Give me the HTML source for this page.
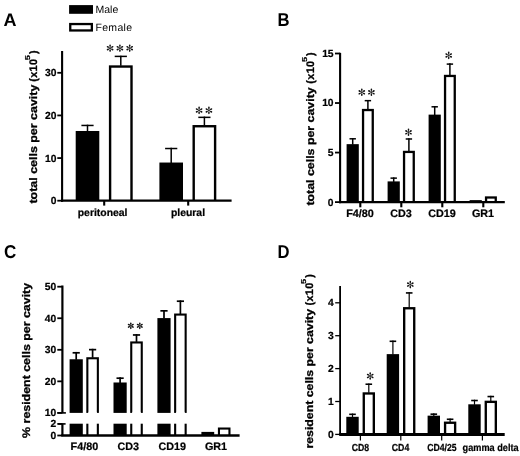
<!DOCTYPE html>
<html><head><meta charset="utf-8"><style>html,body{margin:0;padding:0;background:#fff;width:520px;height:456px;overflow:hidden}svg{display:block;will-change:transform}</style></head>
<body><svg width="520" height="456" viewBox="0 0 520 456" text-rendering="geometricPrecision">
<rect width="520" height="456" fill="#fff"/>
<text transform="translate(3.6,25.6) scale(1.0,1)" font-size="18" font-family="Liberation Sans" font-weight="bold">A</text>
<rect x="69.10" y="5.10" width="23.90" height="8.70" fill="#000"/>
<rect x="69.10" y="22.90" width="23.90" height="8.70" fill="#000"/>
<rect x="71.40" y="25.20" width="19.30" height="4.10" fill="#fff"/>
<text x="95.50" y="13.40" font-size="10.5" text-anchor="start" font-family="Liberation Sans"  >Male</text>
<text x="95.50" y="31.30" font-size="10.5" text-anchor="start" font-family="Liberation Sans"  textLength="36.5">Female</text>
<line x1="62.10" y1="51.00" x2="62.10" y2="201.80" stroke="#000" stroke-width="2.1"/>
<line x1="57.30" y1="200.70" x2="62.00" y2="200.70" stroke="#000" stroke-width="1.8"/>
<text x="56.40" y="204.15" font-size="10.3" text-anchor="end" font-family="Liberation Sans" font-weight="bold" stroke="#000" stroke-width="0.22" >0</text>
<line x1="57.30" y1="158.07" x2="62.00" y2="158.07" stroke="#000" stroke-width="1.8"/>
<text x="56.40" y="161.52" font-size="10.3" text-anchor="end" font-family="Liberation Sans" font-weight="bold" stroke="#000" stroke-width="0.22" >10</text>
<line x1="57.30" y1="115.43" x2="62.00" y2="115.43" stroke="#000" stroke-width="1.8"/>
<text x="56.40" y="118.88" font-size="10.3" text-anchor="end" font-family="Liberation Sans" font-weight="bold" stroke="#000" stroke-width="0.22" >20</text>
<line x1="57.30" y1="72.80" x2="62.00" y2="72.80" stroke="#000" stroke-width="1.8"/>
<text x="56.40" y="76.25" font-size="10.3" text-anchor="end" font-family="Liberation Sans" font-weight="bold" stroke="#000" stroke-width="0.22" >30</text>
<line x1="104.20" y1="200.70" x2="104.20" y2="205.60" stroke="#000" stroke-width="2.1"/>
<line x1="188.20" y1="200.70" x2="188.20" y2="205.60" stroke="#000" stroke-width="2.1"/>
<text x="102.60" y="216.40" font-size="10.4" text-anchor="middle" font-family="Liberation Sans" font-weight="bold" stroke="#000" stroke-width="0.22" >peritoneal</text>
<text x="188.00" y="216.40" font-size="10.4" text-anchor="middle" font-family="Liberation Sans" font-weight="bold" stroke="#000" stroke-width="0.22" >pleural</text>
<line x1="87.50" y1="124.70" x2="87.50" y2="131.49" stroke="#000" stroke-width="1.5"/>
<line x1="81.40" y1="125.45" x2="93.60" y2="125.45" stroke="#000" stroke-width="1.5"/>
<rect x="75.70" y="130.99" width="23.60" height="69.71" fill="#000"/>
<line x1="120.80" y1="55.64" x2="120.80" y2="65.84" stroke="#000" stroke-width="1.5"/>
<line x1="114.70" y1="56.39" x2="126.90" y2="56.39" stroke="#000" stroke-width="1.5"/>
<rect x="108.90" y="65.34" width="23.80" height="135.36" fill="#000"/>
<rect x="111.30" y="67.74" width="19.00" height="132.96" fill="#fff"/>
<line x1="171.20" y1="147.77" x2="171.20" y2="163.04" stroke="#000" stroke-width="1.5"/>
<line x1="165.10" y1="148.52" x2="177.30" y2="148.52" stroke="#000" stroke-width="1.5"/>
<rect x="159.40" y="162.54" width="23.60" height="38.16" fill="#000"/>
<line x1="204.40" y1="116.60" x2="204.40" y2="125.53" stroke="#000" stroke-width="1.5"/>
<line x1="198.30" y1="117.35" x2="210.50" y2="117.35" stroke="#000" stroke-width="1.5"/>
<rect x="192.50" y="125.03" width="23.80" height="75.67" fill="#000"/>
<rect x="194.90" y="127.43" width="19.00" height="73.27" fill="#fff"/>
<line x1="61.00" y1="200.70" x2="231.60" y2="200.70" stroke="#000" stroke-width="2.3"/>
<line x1="110.10" y1="48.20" x2="110.10" y2="45.55" stroke="#111" stroke-width="0.7"/><ellipse cx="110.10" cy="45.55" rx="1.15" ry="0.8" transform="rotate(-90.0 110.10 45.55)" fill="#111"/><line x1="110.10" y1="48.20" x2="112.39" y2="46.88" stroke="#111" stroke-width="0.7"/><ellipse cx="112.39" cy="46.88" rx="1.15" ry="0.8" transform="rotate(-30.0 112.39 46.88)" fill="#111"/><line x1="110.10" y1="48.20" x2="112.39" y2="49.53" stroke="#111" stroke-width="0.7"/><ellipse cx="112.39" cy="49.53" rx="1.15" ry="0.8" transform="rotate(30.0 112.39 49.53)" fill="#111"/><line x1="110.10" y1="48.20" x2="110.10" y2="50.85" stroke="#111" stroke-width="0.7"/><ellipse cx="110.10" cy="50.85" rx="1.15" ry="0.8" transform="rotate(90.0 110.10 50.85)" fill="#111"/><line x1="110.10" y1="48.20" x2="107.81" y2="46.88" stroke="#111" stroke-width="0.7"/><ellipse cx="107.81" cy="46.88" rx="1.15" ry="0.8" transform="rotate(-150.0 107.81 46.88)" fill="#111"/><line x1="110.10" y1="48.20" x2="107.81" y2="49.53" stroke="#111" stroke-width="0.7"/><ellipse cx="107.81" cy="49.53" rx="1.15" ry="0.8" transform="rotate(-210.0 107.81 49.53)" fill="#111"/>
<line x1="119.90" y1="48.20" x2="119.90" y2="45.55" stroke="#111" stroke-width="0.7"/><ellipse cx="119.90" cy="45.55" rx="1.15" ry="0.8" transform="rotate(-90.0 119.90 45.55)" fill="#111"/><line x1="119.90" y1="48.20" x2="122.19" y2="46.88" stroke="#111" stroke-width="0.7"/><ellipse cx="122.19" cy="46.88" rx="1.15" ry="0.8" transform="rotate(-30.0 122.19 46.88)" fill="#111"/><line x1="119.90" y1="48.20" x2="122.19" y2="49.53" stroke="#111" stroke-width="0.7"/><ellipse cx="122.19" cy="49.53" rx="1.15" ry="0.8" transform="rotate(30.0 122.19 49.53)" fill="#111"/><line x1="119.90" y1="48.20" x2="119.90" y2="50.85" stroke="#111" stroke-width="0.7"/><ellipse cx="119.90" cy="50.85" rx="1.15" ry="0.8" transform="rotate(90.0 119.90 50.85)" fill="#111"/><line x1="119.90" y1="48.20" x2="117.61" y2="46.88" stroke="#111" stroke-width="0.7"/><ellipse cx="117.61" cy="46.88" rx="1.15" ry="0.8" transform="rotate(-150.0 117.61 46.88)" fill="#111"/><line x1="119.90" y1="48.20" x2="117.61" y2="49.53" stroke="#111" stroke-width="0.7"/><ellipse cx="117.61" cy="49.53" rx="1.15" ry="0.8" transform="rotate(-210.0 117.61 49.53)" fill="#111"/>
<line x1="129.70" y1="48.20" x2="129.70" y2="45.55" stroke="#111" stroke-width="0.7"/><ellipse cx="129.70" cy="45.55" rx="1.15" ry="0.8" transform="rotate(-90.0 129.70 45.55)" fill="#111"/><line x1="129.70" y1="48.20" x2="131.99" y2="46.88" stroke="#111" stroke-width="0.7"/><ellipse cx="131.99" cy="46.88" rx="1.15" ry="0.8" transform="rotate(-30.0 131.99 46.88)" fill="#111"/><line x1="129.70" y1="48.20" x2="131.99" y2="49.53" stroke="#111" stroke-width="0.7"/><ellipse cx="131.99" cy="49.53" rx="1.15" ry="0.8" transform="rotate(30.0 131.99 49.53)" fill="#111"/><line x1="129.70" y1="48.20" x2="129.70" y2="50.85" stroke="#111" stroke-width="0.7"/><ellipse cx="129.70" cy="50.85" rx="1.15" ry="0.8" transform="rotate(90.0 129.70 50.85)" fill="#111"/><line x1="129.70" y1="48.20" x2="127.41" y2="46.88" stroke="#111" stroke-width="0.7"/><ellipse cx="127.41" cy="46.88" rx="1.15" ry="0.8" transform="rotate(-150.0 127.41 46.88)" fill="#111"/><line x1="129.70" y1="48.20" x2="127.41" y2="49.53" stroke="#111" stroke-width="0.7"/><ellipse cx="127.41" cy="49.53" rx="1.15" ry="0.8" transform="rotate(-210.0 127.41 49.53)" fill="#111"/>
<line x1="199.10" y1="110.40" x2="199.10" y2="107.75" stroke="#111" stroke-width="0.7"/><ellipse cx="199.10" cy="107.75" rx="1.15" ry="0.8" transform="rotate(-90.0 199.10 107.75)" fill="#111"/><line x1="199.10" y1="110.40" x2="201.39" y2="109.08" stroke="#111" stroke-width="0.7"/><ellipse cx="201.39" cy="109.08" rx="1.15" ry="0.8" transform="rotate(-30.0 201.39 109.08)" fill="#111"/><line x1="199.10" y1="110.40" x2="201.39" y2="111.73" stroke="#111" stroke-width="0.7"/><ellipse cx="201.39" cy="111.73" rx="1.15" ry="0.8" transform="rotate(30.0 201.39 111.73)" fill="#111"/><line x1="199.10" y1="110.40" x2="199.10" y2="113.05" stroke="#111" stroke-width="0.7"/><ellipse cx="199.10" cy="113.05" rx="1.15" ry="0.8" transform="rotate(90.0 199.10 113.05)" fill="#111"/><line x1="199.10" y1="110.40" x2="196.81" y2="109.08" stroke="#111" stroke-width="0.7"/><ellipse cx="196.81" cy="109.08" rx="1.15" ry="0.8" transform="rotate(-150.0 196.81 109.08)" fill="#111"/><line x1="199.10" y1="110.40" x2="196.81" y2="111.73" stroke="#111" stroke-width="0.7"/><ellipse cx="196.81" cy="111.73" rx="1.15" ry="0.8" transform="rotate(-210.0 196.81 111.73)" fill="#111"/>
<line x1="208.90" y1="110.40" x2="208.90" y2="107.75" stroke="#111" stroke-width="0.7"/><ellipse cx="208.90" cy="107.75" rx="1.15" ry="0.8" transform="rotate(-90.0 208.90 107.75)" fill="#111"/><line x1="208.90" y1="110.40" x2="211.19" y2="109.08" stroke="#111" stroke-width="0.7"/><ellipse cx="211.19" cy="109.08" rx="1.15" ry="0.8" transform="rotate(-30.0 211.19 109.08)" fill="#111"/><line x1="208.90" y1="110.40" x2="211.19" y2="111.73" stroke="#111" stroke-width="0.7"/><ellipse cx="211.19" cy="111.73" rx="1.15" ry="0.8" transform="rotate(30.0 211.19 111.73)" fill="#111"/><line x1="208.90" y1="110.40" x2="208.90" y2="113.05" stroke="#111" stroke-width="0.7"/><ellipse cx="208.90" cy="113.05" rx="1.15" ry="0.8" transform="rotate(90.0 208.90 113.05)" fill="#111"/><line x1="208.90" y1="110.40" x2="206.61" y2="109.08" stroke="#111" stroke-width="0.7"/><ellipse cx="206.61" cy="109.08" rx="1.15" ry="0.8" transform="rotate(-150.0 206.61 109.08)" fill="#111"/><line x1="208.90" y1="110.40" x2="206.61" y2="111.73" stroke="#111" stroke-width="0.7"/><ellipse cx="206.61" cy="111.73" rx="1.15" ry="0.8" transform="rotate(-210.0 206.61 111.73)" fill="#111"/>
<text transform="translate(36.80,203.60) rotate(-90)" font-size="10.9" font-family="Liberation Sans" font-weight="bold" textLength="119.00" lengthAdjust="spacingAndGlyphs" stroke="#000" stroke-width="0.3">total cells per cavity</text>
<text transform="translate(36.80,50.00) rotate(-90)" font-size="10.9" font-family="Liberation Sans" font-weight="bold" text-anchor="end" letter-spacing="0.35" stroke="#000" stroke-width="0.3">(x10<tspan dx="4.6">)</tspan></text>
<text transform="translate(29.80,60.20) rotate(-90) scale(1.3,1)" font-size="7.2" font-family="Liberation Sans" font-weight="bold" text-anchor="start" stroke="#000" stroke-width="0.2">5</text>
<text transform="translate(277.5,25.8) scale(0.9,1)" font-size="18.5" font-family="Liberation Sans" font-weight="bold">B</text>
<line x1="340.10" y1="52.80" x2="340.10" y2="203.20" stroke="#000" stroke-width="2.1"/>
<line x1="335.00" y1="202.10" x2="340.00" y2="202.10" stroke="#000" stroke-width="1.8"/>
<text x="333.60" y="205.55" font-size="10.3" text-anchor="end" font-family="Liberation Sans" font-weight="bold" stroke="#000" stroke-width="0.22" >0</text>
<line x1="335.00" y1="152.57" x2="340.00" y2="152.57" stroke="#000" stroke-width="1.8"/>
<text x="333.60" y="156.02" font-size="10.3" text-anchor="end" font-family="Liberation Sans" font-weight="bold" stroke="#000" stroke-width="0.22" >5</text>
<line x1="335.00" y1="103.03" x2="340.00" y2="103.03" stroke="#000" stroke-width="1.8"/>
<text x="333.60" y="106.48" font-size="10.3" text-anchor="end" font-family="Liberation Sans" font-weight="bold" stroke="#000" stroke-width="0.22" >10</text>
<line x1="335.00" y1="53.50" x2="340.00" y2="53.50" stroke="#000" stroke-width="1.8"/>
<text x="333.60" y="56.95" font-size="10.3" text-anchor="end" font-family="Liberation Sans" font-weight="bold" stroke="#000" stroke-width="0.22" >15</text>
<line x1="360.30" y1="202.10" x2="360.30" y2="207.30" stroke="#000" stroke-width="2.1"/>
<line x1="401.30" y1="202.10" x2="401.30" y2="207.30" stroke="#000" stroke-width="2.1"/>
<line x1="442.30" y1="202.10" x2="442.30" y2="207.30" stroke="#000" stroke-width="2.1"/>
<line x1="483.30" y1="202.10" x2="483.30" y2="207.30" stroke="#000" stroke-width="2.1"/>
<text x="360.00" y="216.60" font-size="10.8" text-anchor="middle" font-family="Liberation Sans" font-weight="bold" stroke="#000" stroke-width="0.22" >F4/80</text>
<text x="401.00" y="216.60" font-size="10.8" text-anchor="middle" font-family="Liberation Sans" font-weight="bold" stroke="#000" stroke-width="0.22" >CD3</text>
<text x="442.00" y="216.60" font-size="10.8" text-anchor="middle" font-family="Liberation Sans" font-weight="bold" stroke="#000" stroke-width="0.22" >CD19</text>
<text x="483.00" y="216.60" font-size="10.8" text-anchor="middle" font-family="Liberation Sans" font-weight="bold" stroke="#000" stroke-width="0.22" >GR1</text>
<line x1="352.70" y1="138.05" x2="352.70" y2="144.65" stroke="#000" stroke-width="1.5"/>
<line x1="349.50" y1="138.80" x2="355.90" y2="138.80" stroke="#000" stroke-width="1.5"/>
<rect x="346.60" y="144.15" width="12.20" height="57.95" fill="#000"/>
<line x1="367.90" y1="99.91" x2="367.90" y2="109.38" stroke="#000" stroke-width="1.5"/>
<line x1="364.70" y1="100.66" x2="371.10" y2="100.66" stroke="#000" stroke-width="1.5"/>
<rect x="361.90" y="108.88" width="12.00" height="93.22" fill="#000"/>
<rect x="364.20" y="111.18" width="7.40" height="90.92" fill="#fff"/>
<line x1="393.70" y1="177.38" x2="393.70" y2="181.90" stroke="#000" stroke-width="1.5"/>
<line x1="390.50" y1="178.13" x2="396.90" y2="178.13" stroke="#000" stroke-width="1.5"/>
<rect x="387.60" y="181.40" width="12.20" height="20.70" fill="#000"/>
<line x1="408.90" y1="138.24" x2="408.90" y2="151.28" stroke="#000" stroke-width="1.5"/>
<line x1="405.70" y1="138.99" x2="412.10" y2="138.99" stroke="#000" stroke-width="1.5"/>
<rect x="402.90" y="150.78" width="12.00" height="51.32" fill="#000"/>
<rect x="405.20" y="153.08" width="7.40" height="49.02" fill="#fff"/>
<line x1="434.70" y1="106.05" x2="434.70" y2="115.12" stroke="#000" stroke-width="1.5"/>
<line x1="431.50" y1="106.80" x2="437.90" y2="106.80" stroke="#000" stroke-width="1.5"/>
<rect x="428.60" y="114.62" width="12.20" height="87.48" fill="#000"/>
<line x1="449.90" y1="63.35" x2="449.90" y2="75.30" stroke="#000" stroke-width="1.5"/>
<line x1="446.70" y1="64.10" x2="453.10" y2="64.10" stroke="#000" stroke-width="1.5"/>
<rect x="443.90" y="74.80" width="12.00" height="127.30" fill="#000"/>
<rect x="446.20" y="77.10" width="7.40" height="125.00" fill="#fff"/>
<rect x="469.60" y="200.12" width="12.20" height="1.98" fill="#000"/>
<rect x="484.90" y="196.35" width="12.00" height="5.75" fill="#000"/>
<rect x="487.20" y="198.65" width="7.40" height="3.45" fill="#fff"/>
<line x1="339.00" y1="202.10" x2="504.80" y2="202.10" stroke="#000" stroke-width="2.2"/>
<line x1="361.80" y1="92.30" x2="361.80" y2="89.65" stroke="#111" stroke-width="0.7"/><ellipse cx="361.80" cy="89.65" rx="1.15" ry="0.8" transform="rotate(-90.0 361.80 89.65)" fill="#111"/><line x1="361.80" y1="92.30" x2="364.09" y2="90.97" stroke="#111" stroke-width="0.7"/><ellipse cx="364.09" cy="90.97" rx="1.15" ry="0.8" transform="rotate(-30.0 364.09 90.97)" fill="#111"/><line x1="361.80" y1="92.30" x2="364.09" y2="93.62" stroke="#111" stroke-width="0.7"/><ellipse cx="364.09" cy="93.62" rx="1.15" ry="0.8" transform="rotate(30.0 364.09 93.62)" fill="#111"/><line x1="361.80" y1="92.30" x2="361.80" y2="94.95" stroke="#111" stroke-width="0.7"/><ellipse cx="361.80" cy="94.95" rx="1.15" ry="0.8" transform="rotate(90.0 361.80 94.95)" fill="#111"/><line x1="361.80" y1="92.30" x2="359.51" y2="90.97" stroke="#111" stroke-width="0.7"/><ellipse cx="359.51" cy="90.97" rx="1.15" ry="0.8" transform="rotate(-150.0 359.51 90.97)" fill="#111"/><line x1="361.80" y1="92.30" x2="359.51" y2="93.62" stroke="#111" stroke-width="0.7"/><ellipse cx="359.51" cy="93.62" rx="1.15" ry="0.8" transform="rotate(-210.0 359.51 93.62)" fill="#111"/>
<line x1="371.40" y1="92.30" x2="371.40" y2="89.65" stroke="#111" stroke-width="0.7"/><ellipse cx="371.40" cy="89.65" rx="1.15" ry="0.8" transform="rotate(-90.0 371.40 89.65)" fill="#111"/><line x1="371.40" y1="92.30" x2="373.69" y2="90.97" stroke="#111" stroke-width="0.7"/><ellipse cx="373.69" cy="90.97" rx="1.15" ry="0.8" transform="rotate(-30.0 373.69 90.97)" fill="#111"/><line x1="371.40" y1="92.30" x2="373.69" y2="93.62" stroke="#111" stroke-width="0.7"/><ellipse cx="373.69" cy="93.62" rx="1.15" ry="0.8" transform="rotate(30.0 373.69 93.62)" fill="#111"/><line x1="371.40" y1="92.30" x2="371.40" y2="94.95" stroke="#111" stroke-width="0.7"/><ellipse cx="371.40" cy="94.95" rx="1.15" ry="0.8" transform="rotate(90.0 371.40 94.95)" fill="#111"/><line x1="371.40" y1="92.30" x2="369.11" y2="90.97" stroke="#111" stroke-width="0.7"/><ellipse cx="369.11" cy="90.97" rx="1.15" ry="0.8" transform="rotate(-150.0 369.11 90.97)" fill="#111"/><line x1="371.40" y1="92.30" x2="369.11" y2="93.62" stroke="#111" stroke-width="0.7"/><ellipse cx="369.11" cy="93.62" rx="1.15" ry="0.8" transform="rotate(-210.0 369.11 93.62)" fill="#111"/>
<line x1="408.50" y1="132.30" x2="408.50" y2="129.65" stroke="#111" stroke-width="0.7"/><ellipse cx="408.50" cy="129.65" rx="1.15" ry="0.8" transform="rotate(-90.0 408.50 129.65)" fill="#111"/><line x1="408.50" y1="132.30" x2="410.79" y2="130.97" stroke="#111" stroke-width="0.7"/><ellipse cx="410.79" cy="130.97" rx="1.15" ry="0.8" transform="rotate(-30.0 410.79 130.97)" fill="#111"/><line x1="408.50" y1="132.30" x2="410.79" y2="133.62" stroke="#111" stroke-width="0.7"/><ellipse cx="410.79" cy="133.62" rx="1.15" ry="0.8" transform="rotate(30.0 410.79 133.62)" fill="#111"/><line x1="408.50" y1="132.30" x2="408.50" y2="134.95" stroke="#111" stroke-width="0.7"/><ellipse cx="408.50" cy="134.95" rx="1.15" ry="0.8" transform="rotate(90.0 408.50 134.95)" fill="#111"/><line x1="408.50" y1="132.30" x2="406.21" y2="130.97" stroke="#111" stroke-width="0.7"/><ellipse cx="406.21" cy="130.97" rx="1.15" ry="0.8" transform="rotate(-150.0 406.21 130.97)" fill="#111"/><line x1="408.50" y1="132.30" x2="406.21" y2="133.62" stroke="#111" stroke-width="0.7"/><ellipse cx="406.21" cy="133.62" rx="1.15" ry="0.8" transform="rotate(-210.0 406.21 133.62)" fill="#111"/>
<line x1="448.70" y1="55.40" x2="448.70" y2="52.75" stroke="#111" stroke-width="0.7"/><ellipse cx="448.70" cy="52.75" rx="1.15" ry="0.8" transform="rotate(-90.0 448.70 52.75)" fill="#111"/><line x1="448.70" y1="55.40" x2="450.99" y2="54.08" stroke="#111" stroke-width="0.7"/><ellipse cx="450.99" cy="54.08" rx="1.15" ry="0.8" transform="rotate(-30.0 450.99 54.08)" fill="#111"/><line x1="448.70" y1="55.40" x2="450.99" y2="56.73" stroke="#111" stroke-width="0.7"/><ellipse cx="450.99" cy="56.73" rx="1.15" ry="0.8" transform="rotate(30.0 450.99 56.73)" fill="#111"/><line x1="448.70" y1="55.40" x2="448.70" y2="58.05" stroke="#111" stroke-width="0.7"/><ellipse cx="448.70" cy="58.05" rx="1.15" ry="0.8" transform="rotate(90.0 448.70 58.05)" fill="#111"/><line x1="448.70" y1="55.40" x2="446.41" y2="54.08" stroke="#111" stroke-width="0.7"/><ellipse cx="446.41" cy="54.08" rx="1.15" ry="0.8" transform="rotate(-150.0 446.41 54.08)" fill="#111"/><line x1="448.70" y1="55.40" x2="446.41" y2="56.73" stroke="#111" stroke-width="0.7"/><ellipse cx="446.41" cy="56.73" rx="1.15" ry="0.8" transform="rotate(-210.0 446.41 56.73)" fill="#111"/>
<text transform="translate(314.00,205.60) rotate(-90)" font-size="10.9" font-family="Liberation Sans" font-weight="bold" textLength="118.30" lengthAdjust="spacingAndGlyphs" stroke="#000" stroke-width="0.3">total cells per cavity</text>
<text transform="translate(314.00,51.90) rotate(-90)" font-size="10.9" font-family="Liberation Sans" font-weight="bold" text-anchor="end" letter-spacing="0.35" stroke="#000" stroke-width="0.3">(x10<tspan dx="4.6">)</tspan></text>
<text transform="translate(307.00,62.10) rotate(-90) scale(1.3,1)" font-size="7.2" font-family="Liberation Sans" font-weight="bold" text-anchor="start" stroke="#000" stroke-width="0.2">5</text>
<text transform="translate(3.9,257.7) scale(0.92,1)" font-size="18.5" font-family="Liberation Sans" font-weight="bold">C</text>
<line x1="62.40" y1="285.50" x2="62.40" y2="412.90" stroke="#000" stroke-width="2.2"/>
<line x1="62.40" y1="423.90" x2="62.40" y2="435.50" stroke="#000" stroke-width="2.2"/>
<line x1="57.40" y1="412.90" x2="65.90" y2="412.90" stroke="#000" stroke-width="1.6"/>
<line x1="58.20" y1="423.90" x2="65.60" y2="423.90" stroke="#000" stroke-width="1.6"/>
<line x1="57.30" y1="412.90" x2="62.40" y2="412.90" stroke="#000" stroke-width="1.8"/>
<text x="56.20" y="416.35" font-size="10.3" text-anchor="end" font-family="Liberation Sans" font-weight="bold" stroke="#000" stroke-width="0.22" >10</text>
<line x1="57.30" y1="381.35" x2="62.40" y2="381.35" stroke="#000" stroke-width="1.8"/>
<text x="56.20" y="384.80" font-size="10.3" text-anchor="end" font-family="Liberation Sans" font-weight="bold" stroke="#000" stroke-width="0.22" >20</text>
<line x1="57.30" y1="349.80" x2="62.40" y2="349.80" stroke="#000" stroke-width="1.8"/>
<text x="56.20" y="353.25" font-size="10.3" text-anchor="end" font-family="Liberation Sans" font-weight="bold" stroke="#000" stroke-width="0.22" >30</text>
<line x1="57.30" y1="318.25" x2="62.40" y2="318.25" stroke="#000" stroke-width="1.8"/>
<text x="56.20" y="321.70" font-size="10.3" text-anchor="end" font-family="Liberation Sans" font-weight="bold" stroke="#000" stroke-width="0.22" >40</text>
<line x1="57.30" y1="286.70" x2="62.40" y2="286.70" stroke="#000" stroke-width="1.8"/>
<text x="56.20" y="290.15" font-size="10.3" text-anchor="end" font-family="Liberation Sans" font-weight="bold" stroke="#000" stroke-width="0.22" >50</text>
<line x1="57.30" y1="435.50" x2="62.40" y2="435.50" stroke="#000" stroke-width="1.8"/>
<text x="56.20" y="438.95" font-size="10.3" text-anchor="end" font-family="Liberation Sans" font-weight="bold" stroke="#000" stroke-width="0.22" >0</text>
<line x1="57.30" y1="423.90" x2="62.40" y2="423.90" stroke="#000" stroke-width="1.8"/>
<text x="56.20" y="427.35" font-size="10.3" text-anchor="end" font-family="Liberation Sans" font-weight="bold" stroke="#000" stroke-width="0.22" >2</text>
<text x="84.40" y="449.90" font-size="10.8" text-anchor="middle" font-family="Liberation Sans" font-weight="bold" stroke="#000" stroke-width="0.22" >F4/80</text>
<text x="128.30" y="449.90" font-size="10.8" text-anchor="middle" font-family="Liberation Sans" font-weight="bold" stroke="#000" stroke-width="0.22" >CD3</text>
<text x="172.20" y="449.90" font-size="10.8" text-anchor="middle" font-family="Liberation Sans" font-weight="bold" stroke="#000" stroke-width="0.22" >CD19</text>
<text x="216.00" y="449.90" font-size="10.8" text-anchor="middle" font-family="Liberation Sans" font-weight="bold" stroke="#000" stroke-width="0.22" >GR1</text>
<line x1="76.20" y1="351.95" x2="76.20" y2="359.76" stroke="#000" stroke-width="1.7"/>
<line x1="72.60" y1="352.80" x2="79.80" y2="352.80" stroke="#000" stroke-width="1.7"/>
<rect x="69.60" y="359.26" width="13.20" height="53.63" fill="#000"/>
<rect x="69.60" y="423.70" width="13.20" height="11.80" fill="#000"/>
<line x1="92.60" y1="348.79" x2="92.60" y2="357.71" stroke="#000" stroke-width="1.7"/>
<line x1="89.00" y1="349.64" x2="96.20" y2="349.64" stroke="#000" stroke-width="1.7"/>
<rect x="86.30" y="357.21" width="12.60" height="55.69" fill="#000"/>
<rect x="88.40" y="359.31" width="8.40" height="53.59" fill="#fff"/>
<rect x="88.40" y="411.90" width="8.40" height="3.00" fill="#fff"/>
<rect x="86.30" y="423.70" width="2.10" height="11.80" fill="#000"/>
<rect x="96.80" y="423.70" width="2.10" height="11.80" fill="#000"/>
<line x1="120.10" y1="377.34" x2="120.10" y2="382.99" stroke="#000" stroke-width="1.7"/>
<line x1="116.50" y1="378.19" x2="123.70" y2="378.19" stroke="#000" stroke-width="1.7"/>
<rect x="113.50" y="382.49" width="13.20" height="30.41" fill="#000"/>
<rect x="113.50" y="423.70" width="13.20" height="11.80" fill="#000"/>
<line x1="136.50" y1="334.12" x2="136.50" y2="341.91" stroke="#000" stroke-width="1.7"/>
<line x1="132.90" y1="334.97" x2="140.10" y2="334.97" stroke="#000" stroke-width="1.7"/>
<rect x="130.20" y="341.41" width="12.60" height="71.49" fill="#000"/>
<rect x="132.30" y="343.51" width="8.40" height="69.39" fill="#fff"/>
<rect x="132.30" y="411.90" width="8.40" height="3.00" fill="#fff"/>
<rect x="130.20" y="423.70" width="2.10" height="11.80" fill="#000"/>
<rect x="140.70" y="423.70" width="2.10" height="11.80" fill="#000"/>
<line x1="164.00" y1="309.99" x2="164.00" y2="318.59" stroke="#000" stroke-width="1.7"/>
<line x1="160.40" y1="310.84" x2="167.60" y2="310.84" stroke="#000" stroke-width="1.7"/>
<rect x="157.40" y="318.09" width="13.20" height="94.81" fill="#000"/>
<rect x="157.40" y="423.70" width="13.20" height="11.80" fill="#000"/>
<line x1="180.40" y1="300.36" x2="180.40" y2="314.02" stroke="#000" stroke-width="1.7"/>
<line x1="176.80" y1="301.21" x2="184.00" y2="301.21" stroke="#000" stroke-width="1.7"/>
<rect x="174.10" y="313.52" width="12.60" height="99.38" fill="#000"/>
<rect x="176.20" y="315.62" width="8.40" height="97.28" fill="#fff"/>
<rect x="176.20" y="411.90" width="8.40" height="3.00" fill="#fff"/>
<rect x="174.10" y="423.70" width="2.10" height="11.80" fill="#000"/>
<rect x="184.60" y="423.70" width="2.10" height="11.80" fill="#000"/>
<rect x="201.40" y="431.90" width="12.80" height="3.60" fill="#000"/>
<rect x="217.90" y="427.50" width="12.60" height="8.00" fill="#000"/>
<rect x="220.00" y="429.60" width="8.40" height="5.90" fill="#fff"/>
<line x1="61.30" y1="435.50" x2="239.60" y2="435.50" stroke="#000" stroke-width="2.3"/>
<line x1="130.80" y1="325.80" x2="130.80" y2="323.55" stroke="#111" stroke-width="0.7"/><ellipse cx="130.80" cy="323.55" rx="1.15" ry="0.8" transform="rotate(-90.0 130.80 323.55)" fill="#111"/><line x1="130.80" y1="325.80" x2="132.75" y2="324.68" stroke="#111" stroke-width="0.7"/><ellipse cx="132.75" cy="324.68" rx="1.15" ry="0.8" transform="rotate(-30.0 132.75 324.68)" fill="#111"/><line x1="130.80" y1="325.80" x2="132.75" y2="326.93" stroke="#111" stroke-width="0.7"/><ellipse cx="132.75" cy="326.93" rx="1.15" ry="0.8" transform="rotate(30.0 132.75 326.93)" fill="#111"/><line x1="130.80" y1="325.80" x2="130.80" y2="328.05" stroke="#111" stroke-width="0.7"/><ellipse cx="130.80" cy="328.05" rx="1.15" ry="0.8" transform="rotate(90.0 130.80 328.05)" fill="#111"/><line x1="130.80" y1="325.80" x2="128.85" y2="324.68" stroke="#111" stroke-width="0.7"/><ellipse cx="128.85" cy="324.68" rx="1.15" ry="0.8" transform="rotate(-150.0 128.85 324.68)" fill="#111"/><line x1="130.80" y1="325.80" x2="128.85" y2="326.93" stroke="#111" stroke-width="0.7"/><ellipse cx="128.85" cy="326.93" rx="1.15" ry="0.8" transform="rotate(-210.0 128.85 326.93)" fill="#111"/>
<line x1="139.80" y1="325.80" x2="139.80" y2="323.55" stroke="#111" stroke-width="0.7"/><ellipse cx="139.80" cy="323.55" rx="1.15" ry="0.8" transform="rotate(-90.0 139.80 323.55)" fill="#111"/><line x1="139.80" y1="325.80" x2="141.75" y2="324.68" stroke="#111" stroke-width="0.7"/><ellipse cx="141.75" cy="324.68" rx="1.15" ry="0.8" transform="rotate(-30.0 141.75 324.68)" fill="#111"/><line x1="139.80" y1="325.80" x2="141.75" y2="326.93" stroke="#111" stroke-width="0.7"/><ellipse cx="141.75" cy="326.93" rx="1.15" ry="0.8" transform="rotate(30.0 141.75 326.93)" fill="#111"/><line x1="139.80" y1="325.80" x2="139.80" y2="328.05" stroke="#111" stroke-width="0.7"/><ellipse cx="139.80" cy="328.05" rx="1.15" ry="0.8" transform="rotate(90.0 139.80 328.05)" fill="#111"/><line x1="139.80" y1="325.80" x2="137.85" y2="324.68" stroke="#111" stroke-width="0.7"/><ellipse cx="137.85" cy="324.68" rx="1.15" ry="0.8" transform="rotate(-150.0 137.85 324.68)" fill="#111"/><line x1="139.80" y1="325.80" x2="137.85" y2="326.93" stroke="#111" stroke-width="0.7"/><ellipse cx="137.85" cy="326.93" rx="1.15" ry="0.8" transform="rotate(-210.0 137.85 326.93)" fill="#111"/>
<text transform="translate(29.80,360.40) rotate(-90)" font-size="11" text-anchor="middle" font-family="Liberation Sans" font-weight="bold" textLength="155" lengthAdjust="spacingAndGlyphs" stroke="#000" stroke-width="0.3">% resident cells per cavity</text>
<text transform="translate(277.6,258.2) scale(0.9,1)" font-size="18.5" font-family="Liberation Sans" font-weight="bold">D</text>
<line x1="340.10" y1="286.00" x2="340.10" y2="434.40" stroke="#000" stroke-width="1.8"/>
<line x1="335.20" y1="434.40" x2="340.00" y2="434.40" stroke="#000" stroke-width="1.3"/>
<text x="333.80" y="437.85" font-size="10.3" text-anchor="end" font-family="Liberation Sans" font-weight="bold" stroke="#000" stroke-width="0.22" >0</text>
<line x1="335.20" y1="401.50" x2="340.00" y2="401.50" stroke="#000" stroke-width="1.3"/>
<text x="333.80" y="404.95" font-size="10.3" text-anchor="end" font-family="Liberation Sans" font-weight="bold" stroke="#000" stroke-width="0.22" >1</text>
<line x1="335.20" y1="368.60" x2="340.00" y2="368.60" stroke="#000" stroke-width="1.3"/>
<text x="333.80" y="372.05" font-size="10.3" text-anchor="end" font-family="Liberation Sans" font-weight="bold" stroke="#000" stroke-width="0.22" >2</text>
<line x1="335.20" y1="335.70" x2="340.00" y2="335.70" stroke="#000" stroke-width="1.3"/>
<text x="333.80" y="339.15" font-size="10.3" text-anchor="end" font-family="Liberation Sans" font-weight="bold" stroke="#000" stroke-width="0.22" >3</text>
<line x1="335.20" y1="302.80" x2="340.00" y2="302.80" stroke="#000" stroke-width="1.3"/>
<text x="333.80" y="306.25" font-size="10.3" text-anchor="end" font-family="Liberation Sans" font-weight="bold" stroke="#000" stroke-width="0.22" >4</text>
<line x1="360.40" y1="434.40" x2="360.40" y2="440.40" stroke="#000" stroke-width="1.2"/>
<line x1="400.80" y1="434.40" x2="400.80" y2="440.40" stroke="#000" stroke-width="1.2"/>
<line x1="441.70" y1="434.40" x2="441.70" y2="440.40" stroke="#000" stroke-width="1.2"/>
<line x1="482.40" y1="434.40" x2="482.40" y2="440.40" stroke="#000" stroke-width="1.2"/>
<line x1="352.50" y1="413.53" x2="352.50" y2="417.30" stroke="#000" stroke-width="1.2"/>
<line x1="349.20" y1="414.33" x2="355.80" y2="414.33" stroke="#000" stroke-width="1.6"/>
<rect x="346.30" y="416.80" width="12.40" height="17.60" fill="#000"/>
<line x1="368.80" y1="383.43" x2="368.80" y2="392.79" stroke="#000" stroke-width="1.2"/>
<line x1="365.50" y1="384.23" x2="372.10" y2="384.23" stroke="#000" stroke-width="1.6"/>
<rect x="362.60" y="392.29" width="12.40" height="42.11" fill="#000"/>
<rect x="364.95" y="394.64" width="7.70" height="39.76" fill="#fff"/>
<line x1="392.90" y1="340.49" x2="392.90" y2="354.62" stroke="#000" stroke-width="1.2"/>
<line x1="389.60" y1="341.29" x2="396.20" y2="341.29" stroke="#000" stroke-width="1.6"/>
<rect x="386.70" y="354.12" width="12.40" height="80.28" fill="#000"/>
<line x1="409.20" y1="292.13" x2="409.20" y2="307.58" stroke="#000" stroke-width="1.2"/>
<line x1="405.90" y1="292.93" x2="412.50" y2="292.93" stroke="#000" stroke-width="1.6"/>
<rect x="403.00" y="307.08" width="12.40" height="127.32" fill="#000"/>
<rect x="405.35" y="309.43" width="7.70" height="124.97" fill="#fff"/>
<line x1="433.80" y1="413.37" x2="433.80" y2="416.15" stroke="#000" stroke-width="1.2"/>
<line x1="430.50" y1="414.17" x2="437.10" y2="414.17" stroke="#000" stroke-width="1.6"/>
<rect x="427.60" y="415.65" width="12.40" height="18.75" fill="#000"/>
<line x1="450.10" y1="418.47" x2="450.10" y2="422.07" stroke="#000" stroke-width="1.2"/>
<line x1="446.80" y1="419.27" x2="453.40" y2="419.27" stroke="#000" stroke-width="1.6"/>
<rect x="443.90" y="421.57" width="12.40" height="12.83" fill="#000"/>
<rect x="446.25" y="423.92" width="7.70" height="10.48" fill="#fff"/>
<line x1="474.50" y1="399.71" x2="474.50" y2="404.80" stroke="#000" stroke-width="1.2"/>
<line x1="471.20" y1="400.51" x2="477.80" y2="400.51" stroke="#000" stroke-width="1.6"/>
<rect x="468.30" y="404.30" width="12.40" height="30.10" fill="#000"/>
<line x1="490.80" y1="395.76" x2="490.80" y2="401.18" stroke="#000" stroke-width="1.2"/>
<line x1="487.50" y1="396.56" x2="494.10" y2="396.56" stroke="#000" stroke-width="1.6"/>
<rect x="484.60" y="400.68" width="12.40" height="33.72" fill="#000"/>
<rect x="486.95" y="403.03" width="7.70" height="31.37" fill="#fff"/>
<line x1="339.20" y1="434.45" x2="504.70" y2="434.45" stroke="#000" stroke-width="2.9"/>
<line x1="370.20" y1="376.00" x2="370.20" y2="373.35" stroke="#111" stroke-width="0.7"/><ellipse cx="370.20" cy="373.35" rx="1.15" ry="0.8" transform="rotate(-90.0 370.20 373.35)" fill="#111"/><line x1="370.20" y1="376.00" x2="372.49" y2="374.68" stroke="#111" stroke-width="0.7"/><ellipse cx="372.49" cy="374.68" rx="1.15" ry="0.8" transform="rotate(-30.0 372.49 374.68)" fill="#111"/><line x1="370.20" y1="376.00" x2="372.49" y2="377.32" stroke="#111" stroke-width="0.7"/><ellipse cx="372.49" cy="377.32" rx="1.15" ry="0.8" transform="rotate(30.0 372.49 377.32)" fill="#111"/><line x1="370.20" y1="376.00" x2="370.20" y2="378.65" stroke="#111" stroke-width="0.7"/><ellipse cx="370.20" cy="378.65" rx="1.15" ry="0.8" transform="rotate(90.0 370.20 378.65)" fill="#111"/><line x1="370.20" y1="376.00" x2="367.91" y2="374.68" stroke="#111" stroke-width="0.7"/><ellipse cx="367.91" cy="374.68" rx="1.15" ry="0.8" transform="rotate(-150.0 367.91 374.68)" fill="#111"/><line x1="370.20" y1="376.00" x2="367.91" y2="377.32" stroke="#111" stroke-width="0.7"/><ellipse cx="367.91" cy="377.32" rx="1.15" ry="0.8" transform="rotate(-210.0 367.91 377.32)" fill="#111"/>
<line x1="410.30" y1="284.60" x2="410.30" y2="281.95" stroke="#111" stroke-width="0.7"/><ellipse cx="410.30" cy="281.95" rx="1.15" ry="0.8" transform="rotate(-90.0 410.30 281.95)" fill="#111"/><line x1="410.30" y1="284.60" x2="412.59" y2="283.27" stroke="#111" stroke-width="0.7"/><ellipse cx="412.59" cy="283.27" rx="1.15" ry="0.8" transform="rotate(-30.0 412.59 283.27)" fill="#111"/><line x1="410.30" y1="284.60" x2="412.59" y2="285.92" stroke="#111" stroke-width="0.7"/><ellipse cx="412.59" cy="285.92" rx="1.15" ry="0.8" transform="rotate(30.0 412.59 285.92)" fill="#111"/><line x1="410.30" y1="284.60" x2="410.30" y2="287.25" stroke="#111" stroke-width="0.7"/><ellipse cx="410.30" cy="287.25" rx="1.15" ry="0.8" transform="rotate(90.0 410.30 287.25)" fill="#111"/><line x1="410.30" y1="284.60" x2="408.01" y2="283.27" stroke="#111" stroke-width="0.7"/><ellipse cx="408.01" cy="283.27" rx="1.15" ry="0.8" transform="rotate(-150.0 408.01 283.27)" fill="#111"/><line x1="410.30" y1="284.60" x2="408.01" y2="285.92" stroke="#111" stroke-width="0.7"/><ellipse cx="408.01" cy="285.92" rx="1.15" ry="0.8" transform="rotate(-210.0 408.01 285.92)" fill="#111"/>
<text x="360.40" y="450.70" font-size="10.2" text-anchor="middle" font-family="Liberation Sans" font-weight="bold" stroke="#000" stroke-width="0.22" textLength="17.4" lengthAdjust="spacingAndGlyphs">CD8</text>
<text x="400.55" y="450.70" font-size="10.2" text-anchor="middle" font-family="Liberation Sans" font-weight="bold" stroke="#000" stroke-width="0.22" textLength="17.5" lengthAdjust="spacingAndGlyphs">CD4</text>
<text x="441.90" y="450.70" font-size="10.2" text-anchor="middle" font-family="Liberation Sans" font-weight="bold" stroke="#000" stroke-width="0.22" textLength="29.4" lengthAdjust="spacingAndGlyphs">CD4/25</text>
<text x="490.60" y="450.70" font-size="10.2" text-anchor="middle" font-family="Liberation Sans" font-weight="bold" stroke="#000" stroke-width="0.22" textLength="56.0" lengthAdjust="spacingAndGlyphs">gamma delta</text>
<text transform="translate(313.40,448.60) rotate(-90)" font-size="10.9" font-family="Liberation Sans" font-weight="bold" textLength="139.60" lengthAdjust="spacingAndGlyphs" stroke="#000" stroke-width="0.3">resident cells per cavity</text>
<text transform="translate(313.40,273.80) rotate(-90)" font-size="10.9" font-family="Liberation Sans" font-weight="bold" text-anchor="end" letter-spacing="0.35" stroke="#000" stroke-width="0.3">(x10<tspan dx="4.6">)</tspan></text>
<text transform="translate(306.40,284.00) rotate(-90) scale(1.3,1)" font-size="7.2" font-family="Liberation Sans" font-weight="bold" text-anchor="start" stroke="#000" stroke-width="0.2">5</text>
</svg></body></html>
